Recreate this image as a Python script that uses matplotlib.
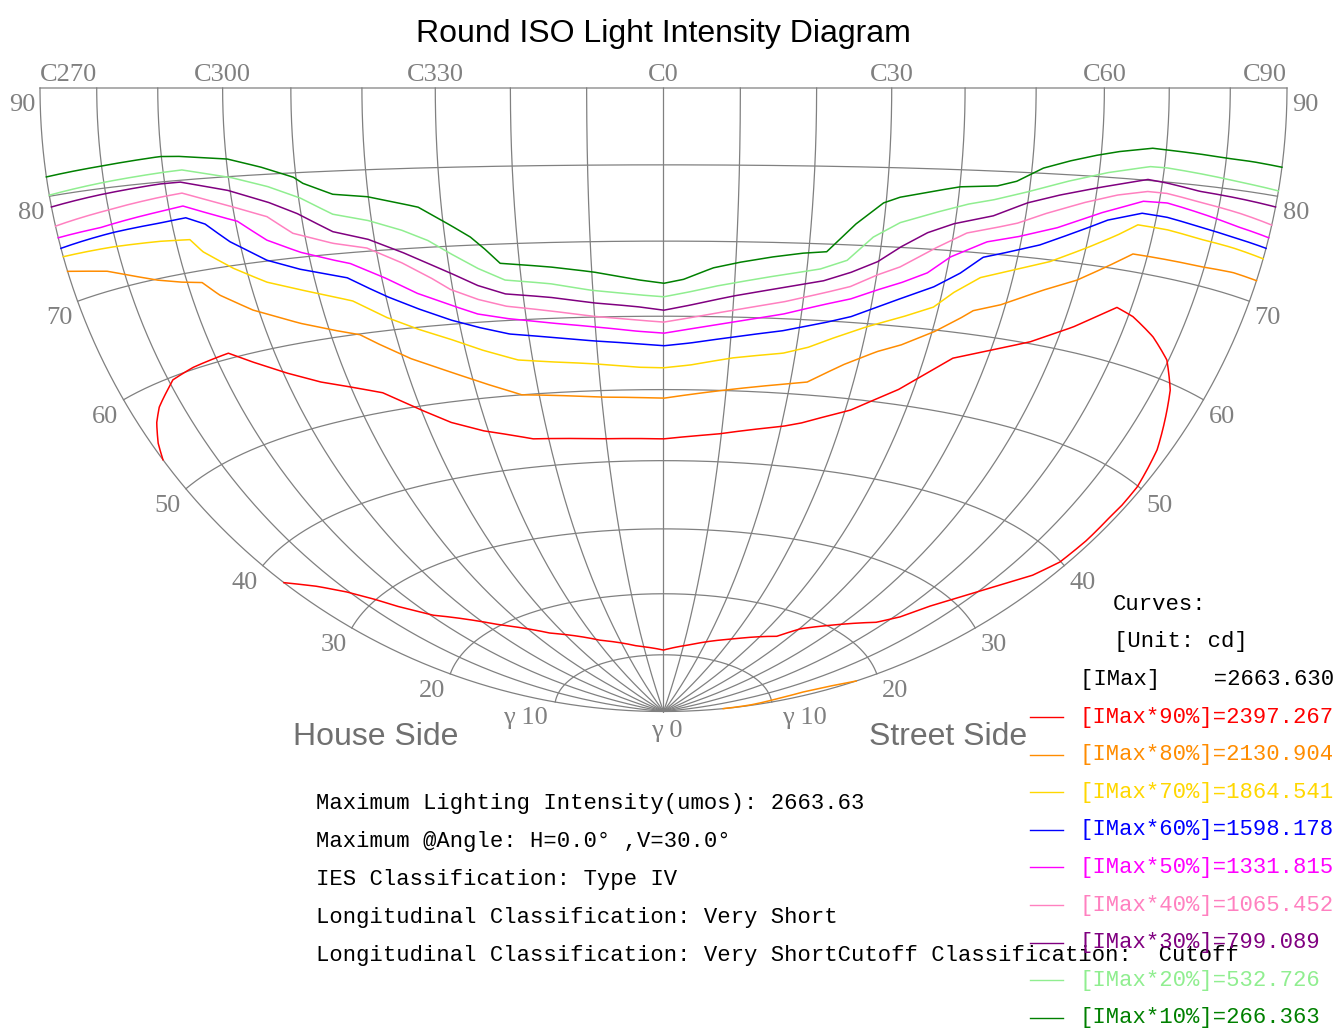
import numpy as np
import matplotlib.pyplot as plt
from matplotlib.lines import Line2D

W, H = 1337, 1028            # canvas, pixels
CX, CY = 663.5, 88.0         # C0 / gamma 90 point (centre of the Lambert plane), px from top-left
S = 623.5 / np.sqrt(2)       # pixels per unit of the Lambert plane

GRID = '#808080'
MONO = 'Liberation Mono'
SERIF = 'Liberation Serif'
SANS = 'Liberation Sans'

IMAX = 2663.630
PCTS = [90, 80, 70, 60, 50, 40, 30, 20, 10]
COLORS = ['#ff0000', '#ff8c00', '#ffd700', '#0000ff', '#ff00ff',
          '#ff80c0', '#800080', '#90ee90', '#008000']

# isocandela curves, C angle (C270..C360 written as -90..0) and gamma angle, degrees
c90 = [-90, -88.7, -86.5, -84.3, -81.0, -79.2, -74.6, -67.6, -64.2, -59.4,
       -54.7, -50.1, -45.2, -40.6, -36.0, -30.9, -22.7, -11.1, 0, 9.2,
       20.3, 23.1, 30.8, 37.5, 44.5, 48.9, 55.7, 61.7, 67.6, 70.8,
       75.5, 79.7, 83.0, 84.5, 87.4, 88.2, 89.0, 89.1, 88.9, 88.9,
       88.4, 86.3, 82.5, 78.7, 74.7, 71.4, 67.9, 58.1, 50.3, 45.7,
       30.7, 13.1, 0, -13.3, -28.5, -44.5, -56.5, -66.2, -69.4, -74.0,
       -76.7, -80.5, -84.7, -90]
g90 = [53.4, 54.9, 56.6, 57.8, 59.0, 59.7, 60.2, 60.6, 59.0, 56.9,
       55.1, 53.8, 52.4, 49.8, 47.4, 45.7, 43.9, 43.3, 43.1, 43.9,
       45.5, 46.1, 48.5, 51.9, 56.8, 58.1, 60.2, 62.8, 65.9, 65.3,
       63.8, 62.0, 59.4, 57.5, 53.8, 51.9, 49.9, 47.7, 46.2, 43.1,
       39.9, 37.2, 34.3, 31.4, 28.4, 25.3, 23.3, 20.4, 18.2, 16.1,
       13.9, 11.9, 10.8, 11.7, 13.5, 16.5, 20.1, 23.8, 25.0, 27.8,
       29.9, 32.5, 34.9, 37.5]

c80 = [-90, -82.9, -79.7, -74.9, -71.2, -67.6, -65.4, -60.9, -54.2, -49.4,
       -45.5, -43.3, -38.9, -33.3, -28.5, -22.8, -10.2, 0, 10.1, 22.6,
       27.7, 32.4, 35.7, 40.2, 43.7, 45.3, 49.2, 55.1, 59.9, 64.0,
       67.6, 73.4, 79.3, 85.3, 90]
g80 = [72.9, 71.9, 71.1, 69.9, 69.2, 68.7, 67.0, 64.7, 62.3, 60.9,
       59.9, 58.6, 56.2, 53.9, 52.0, 50.0, 49.1, 48.8, 50.1, 51.7,
       54.4, 56.5, 57.6, 59.7, 61.8, 62.9, 64.0, 66.4, 68.1, 70.1,
       71.9, 71.9, 71.9, 72.1, 72.0]
# second 80% piece, near the street-side edge at low gamma
c80b = [90, 89.4, 88.0, 87.0, 88.0, 90]
g80b = [5.5, 8.0, 10.1, 12.8, 15.3, 18.0]

c70 = [-90, -80.7, -72.6, -67.7, -66.1, -62.0, -57.4, -52.6, -47.9, -45.1,
       -40.6, -36.5, -31.9, -27.3, -22.3, -17.4, -10.8, -4.1, 0, 4.1,
       10.6, 18.1, 21.6, 25.3, 30.0, 34.6, 39.2, 41.6, 45.1, 49.7,
       55.0, 60.2, 64.4, 67.3, 72.2, 78.0, 84.0, 90]
g70 = [74.3, 74.1, 73.8, 73.5, 72.0, 69.7, 67.6, 66.2, 64.9, 64.1,
       61.6, 59.8, 58.1, 56.3, 54.7, 54.2, 53.7, 53.1, 53.0, 53.4,
       54.5, 55.4, 56.3, 57.8, 59.6, 61.1, 62.8, 64.8, 67.0, 68.3,
       69.8, 71.9, 73.7, 75.1, 75.0, 74.6, 74.4, 74.1]

c60 = [-90, -80.1, -71.9, -67.6, -64.8, -61.5, -60.1, -56.5, -51.8, -45.1,
       -42.5, -39.8, -35.8, -31.3, -27.5, -22.8, -16.9, -10.5, -4.0, 0,
       4.0, 10.3, 17.6, 23.4, 27.2, 30.9, 34.0, 38.5, 42.0, 44.9,
       47.3, 52.9, 59.5, 62.3, 67.6, 71.7, 77.5, 83.6, 90]
g60 = [75.1, 75.5, 75.7, 75.9, 75.0, 72.7, 72.0, 70.1, 68.6, 67.0,
       65.6, 64.2, 62.4, 60.6, 59.4, 58.2, 57.5, 56.8, 56.3, 56.0,
       56.4, 57.3, 58.4, 59.7, 60.7, 62.2, 63.5, 65.3, 67.3, 69.5,
       70.1, 71.6, 74.1, 75.2, 76.4, 76.3, 75.8, 75.4, 75.1]

c50 = [-90, -82.1, -71.5, -67.7, -60.8, -59.7, -55.8, -51.2, -46.6, -44.2,
       -39.8, -35.3, -30.8, -27.1, -23.1, -16.6, -10.3, -3.9, 0, 3.9,
       10.1, 17.3, 23.0, 26.7, 30.4, 33.6, 37.2, 40.1, 45.0, 49.3,
       55.0, 61.0, 67.4, 71.3, 77.0, 83.8, 90]
g50 = [76.1, 76.2, 76.9, 77.2, 75.2, 74.9, 72.4, 70.6, 69.3, 68.7,
       66.7, 64.3, 62.5, 61.1, 60.3, 59.4, 58.7, 58.0, 57.7, 58.3,
       59.3, 60.6, 62.1, 63.0, 64.4, 65.5, 67.0, 69.2, 71.4, 72.3,
       73.8, 75.9, 77.7, 77.8, 77.2, 76.5, 76.1]

c40 = [-90, -81.5, -71.1, -67.5, -60.8, -55.1, -51.7, -46.1, -41.3, -36.9,
       -33.0, -30.4, -26.7, -22.8, -16.4, -10.2, -3.9, 0, 3.8, 10.0,
       17.1, 22.7, 26.4, 30.0, 33.1, 37.4, 41.9, 45.5, 48.9, 52.5,
       58.2, 63.2, 67.8, 71.0, 76.6, 83.8, 90]
g40 = [77.2, 77.7, 78.4, 78.6, 76.8, 75.1, 72.9, 71.3, 70.4, 68.4,
       66.2, 64.5, 63.0, 61.9, 61.0, 60.1, 59.5, 59.2, 59.8, 60.9,
       62.2, 63.6, 64.6, 66.3, 67.5, 70.0, 72.3, 73.1, 73.9, 75.2,
       76.9, 78.1, 78.8, 78.8, 78.3, 77.8, 77.3]

c30 = [-90, -81.0, -70.8, -67.5, -60.5, -54.7, -50.6, -45.8, -41.0, -36.6,
       -33.0, -30.0, -26.4, -22.6, -16.2, -10.1, -3.8, 0, 3.8, 9.9,
       16.9, 22.5, 26.1, 29.8, 32.7, 36.2, 39.7, 45.3, 49.9, 54.6,
       60.4, 67.6, 70.7, 76.3, 83.4, 90]
g30 = [79.0, 79.4, 79.8, 79.8, 78.5, 76.8, 75.2, 72.7, 71.5, 69.7,
       68.0, 66.6, 64.8, 63.5, 62.8, 61.9, 61.3, 60.8, 61.5, 62.8,
       64.1, 65.2, 66.4, 68.0, 70.0, 72.0, 73.3, 74.6, 76.4, 77.6,
       78.8, 80.1, 79.9, 79.4, 79.2, 79.0]

c20 = [-90, -79.4, -70.0, -67.0, -59.7, -54.4, -49.8, -45.4, -40.6, -36.1,
       -32.5, -29.6, -26.0, -22.3, -16.0, -10.4, -3.8, 0, 3.8, 7.5,
       14.5, 21.8, 25.5, 28.7, 32.2, 36.7, 41.3, 44.9, 49.7, 55.3,
       61.2, 67.7, 70.4, 75.9, 82.9, 90]
g20 = [80.1, 80.6, 81.0, 81.1, 79.9, 78.6, 77.0, 74.8, 73.8, 72.4,
       70.9, 69.1, 67.0, 65.3, 64.6, 63.6, 62.9, 62.6, 63.3, 64.1,
       65.4, 66.7, 68.0, 71.1, 73.1, 74.5, 75.8, 76.5, 77.7, 79.2,
       80.5, 81.5, 81.5, 81.2, 80.8, 80.5]

c10 = [-90, -80.3, -70.2, -67.4, -59.9, -55.1, -50.4, -49.1, -45.0, -40.2,
       -35.7, -33.2, -29.1, -26.5, -24.8, -22.7, -15.8, -9.8, -3.7, 0,
       2.7, 6.9, 10.6, 15.1, 19.2, 22.5, 26.0, 29.6, 31.8, 36.3,
       40.0, 45.2, 48.0, 51.6, 55.0, 58.8, 62.4, 67.7, 70.1, 75.5,
       80.1, 84.7, 90]
g10 = [81.8, 82.2, 82.7, 82.6, 82.0, 80.9, 79.5, 78.7, 77.2, 76.7,
       75.7, 75.1, 72.7, 71.1, 69.6, 67.5, 66.8, 66.0, 64.9, 64.4,
       64.9, 66.5, 67.3, 68.1, 68.7, 69.0, 72.6, 75.5, 76.3, 77.2,
       77.9, 78.2, 78.9, 80.6, 81.5, 82.3, 82.9, 83.5, 83.4, 83.2,
       83.0, 82.9, 82.7]

CURVES = {
    90: [(c90, g90)],
    80: [(c80, g80), (c80b, g80b)],
    70: [(c70, g70)],
    60: [(c60, g60)],
    50: [(c50, g50)],
    40: [(c40, g40)],
    30: [(c30, g30)],
    20: [(c20, g20)],
    10: [(c10, g10)],
}

C_LABELS = ['C270', 'C300', 'C330', 'C0', 'C30', 'C60', 'C90']
C_LABEL_ANGLES = [-90, -60, -30, 0, 30, 60, 90]

INFO = [
    f'Maximum Lighting Intensity(umos): {IMAX:.2f}',
    'Maximum @Angle: H=0.0° ,V=30.0°',
    'IES Classification: Type IV',
    'Longitudinal Classification: Very Short',
    'Longitudinal Classification: Very ShortCutoff Classification:  Cutoff',
]


def lonlat(c, g):
    """C / gamma in degrees -> longitude / latitude in radians (C0 horizon at the centre)."""
    return np.radians(np.asarray(c, float)), np.radians(np.asarray(g, float) - 90)


def fx(x):
    return x / W


def fy(y):
    return 1 - y / H


fig = plt.figure(figsize=(W / 100, H / 100), dpi=100)

# equal-area azimuthal view centred on the C0 horizon point
ax = fig.add_axes([fx(CX - 2 * S), (H - CY - 2 * S) / H, 4 * S / W, 4 * S / H],
                  projection='lambert')
ax.axis('off')

# meridians (C planes) every 10 deg and gamma rings every 10 deg
gam = np.linspace(0, 90, 181)
for c in range(-90, 91, 10):
    lo, la = lonlat(np.full_like(gam, c), gam)
    ax.plot(lo, la, color=GRID, lw=0.9, zorder=1)
cc = np.linspace(-90, 90, 361)
for g in range(10, 91, 10):
    lo, la = lonlat(cc, np.full_like(cc, g))
    ax.plot(lo, la, color=GRID, lw=0.9, zorder=1)

# isocandela curves
for pct, color in zip(PCTS, COLORS):
    for c, g in CURVES[pct]:
        lo, la = lonlat(c, g)
        ax.plot(lo, la, color=color, lw=1.1, zorder=3)

# C-plane labels along the top edge
for lbl, c in zip(C_LABELS, C_LABEL_ANGLES):
    ha = 'left' if c == -90 else ('right' if c == 90 else 'center')
    lo, la = lonlat(c, 90)
    ax.annotate(lbl, (lo, la), xytext=(0, 13), textcoords='offset pixels',
                ha=ha, va='center', fontsize=19, family=SERIF, color=GRID)

# gamma labels along both outer meridians
for g in range(20, 91, 10):
    lo, la = lonlat(-90, g)
    ax.annotate(str(g), (lo, la), xytext=(-5, -17), textcoords='offset pixels',
                ha='right', va='center', fontsize=19, family=SERIF, color=GRID)
    lo, la = lonlat(90, g)
    ax.annotate(str(g), (lo, la), xytext=(5, -17), textcoords='offset pixels',
                ha='left', va='center', fontsize=19, family=SERIF, color=GRID)
lo, la = lonlat(-90, 10)
ax.annotate('γ 10', (lo, la), xytext=(-7, -16), textcoords='offset pixels',
            ha='right', va='center', fontsize=19, family=SERIF, color=GRID)
lo, la = lonlat(90, 10)
ax.annotate('γ 10', (lo, la), xytext=(10, -16), textcoords='offset pixels',
            ha='left', va='center', fontsize=19, family=SERIF, color=GRID)
lo, la = lonlat(0, 0)
ax.annotate('γ 0', (lo, la), xytext=(3, -19), textcoords='offset pixels',
            ha='center', va='center', fontsize=19, family=SERIF, color=GRID)

fig.text(fx(CX), fy(34), 'Round ISO Light Intensity Diagram', ha='center', va='center',
         fontsize=23, family=SANS, color='black')
fig.text(fx(376), fy(737), 'House Side', ha='center', va='center',
         fontsize=23, family=SANS, color='#707070')
fig.text(fx(948), fy(737), 'Street Side', ha='center', va='center',
         fontsize=23, family=SANS, color='#707070')

# summary block
for i, line in enumerate(INFO):
    fig.text(fx(316), fy(803 + 38 * i), line, ha='left', va='center',
             fontsize=16, family=MONO, color='black')

# legend
fig.text(fx(1113), fy(605), 'Curves:', ha='left', va='center', fontsize=16, family=MONO)
fig.text(fx(1114), fy(641), '[Unit: cd]', ha='left', va='center', fontsize=16, family=MONO)
fig.text(fx(1080), fy(679), f'[IMax]    ={IMAX:.3f}', ha='left', va='center',
         fontsize=16, family=MONO)
for i, (pct, color) in enumerate(zip(PCTS, COLORS)):
    y = 717 + 37.6 * i
    fig.add_artist(Line2D([fx(1030), fx(1063)], [fy(y), fy(y)], color=color, lw=1.0,
                          transform=fig.transFigure))
    fig.text(fx(1080), fy(y), f'[IMax*{pct}%]={IMAX * pct / 100:.3f}', ha='left',
             va='center', fontsize=16, family=MONO, color=color)

fig.savefig('out.png', dpi=100)
